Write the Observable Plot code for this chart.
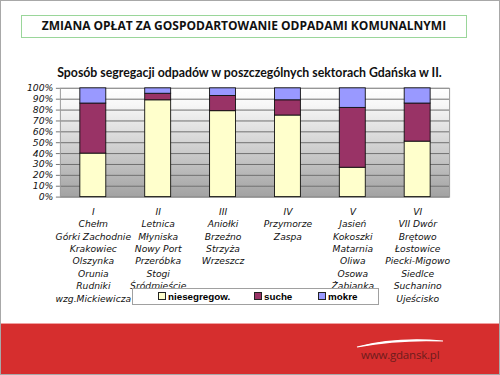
<!DOCTYPE html>
<html><head><meta charset="utf-8">
<script src="https://cdn.jsdelivr.net/npm/d3@7"></script>
<script src="https://cdn.jsdelivr.net/npm/@observablehq/plot@0.6"></script>
<style>
html,body{margin:0;padding:0;background:#fff;}
#page{position:relative;width:500px;height:375px;overflow:hidden;background:#fff;box-sizing:border-box;border:1px solid #a8a8a8;}
#page > *{position:absolute;}
#titlebox{left:20px;top:14px;width:446px;height:23px;border:1.5px solid #9ad69a;box-sizing:border-box;text-align:center;font:bold 12px "Open Sans",sans-serif;line-height:20px;color:#111;}
#subtitle{left:0;top:64px;width:497px;text-align:center;font:bold 12.3px Lato,sans-serif;color:#111;}
#chart{left:-1px;top:-1px;}
#legend{left:131px;top:287px;width:247px;height:17px;border:1px solid #a0a0a0;background:#fff;box-sizing:border-box;font:bold 9.8px "Liberation Sans",Arial,sans-serif;}
#legend .it{position:absolute;top:2px;line-height:12px;white-space:nowrap;}
#legend .sw{display:inline-block;width:6px;height:6px;border:1px solid #222;margin-right:2px;vertical-align:0px;}
#band{left:0;top:322px;width:500px;height:60px;background:#d62e2e;border-top:1px solid #f0a0a0;}
#www{left:360px;top:346px;font:11.5px "Open Sans",sans-serif;color:#6e1c1c;letter-spacing:-0.2px;}
#swoosh{left:0;top:0;}
</style></head>
<body>
<div id="page">
  <div id="band"></div>
  <svg id="swoosh" width="500" height="375"><path d="M356,346 Q395,336 442,340 Q400,338 356,346 Z" fill="#fff" stroke="#fff" stroke-width="1.2"/></svg>
  <div id="www">www.gdansk.pl</div>
  <div id="titlebox">ZMIANA OPŁAT ZA GOSPODARTOWANIE ODPADAMI KOMUNALNYMI</div>
  <div id="subtitle">Sposób segregacji odpadów w poszczególnych sektorach Gdańska w II.</div>
  <div id="chart"></div>
  <div id="legend"></div>
</div>
<script>
const sectors = ["I", "II", "III", "IV", "V", "VI"];
const districts = [
  ["Chełm", "Górki Zachodnie", "Krakowiec", "Olszynka", "Orunia", "Rudniki", "wzg.Mickiewicza"],
  ["Letnica", "Młyniska", "Nowy Port", "Przeróbka", "Stogi", "Śródmieście"],
  ["Aniołki", "Brzeźno", "Strzyża", "Wrzeszcz"],
  ["Przymorze", "Zaspa"],
  ["Jasień", "Kokoszki", "Matarnia", "Oliwa", "Osowa", "Żabianka"],
  ["VII Dwór", "Brętowo", "Łostowice", "Piecki-Migowo", "Siedlce", "Suchanino", "Ujeścisko"]
];
const types = ["niesegregow.", "suche", "mokre"];
const colors = ["#ffffcc", "#993366", "#9999ff"];
const niesegregowane = [0.40, 0.89, 0.79, 0.75, 0.27, 0.51];
const suche = [0.46, 0.06, 0.14, 0.14, 0.55, 0.35];
const mokre = [0.14, 0.05, 0.07, 0.11, 0.18, 0.14];
const yTicks = [0, 0.1, 0.2, 0.3, 0.4, 0.5, 0.6, 0.7, 0.8, 0.9, 1.0];

const series = [niesegregowane, suche, mokre];
const rows = [];
types.forEach((t, ti) => sectors.forEach((s, si) => rows.push({sector: s, type: t, value: series[ti][si]})));
const labels = sectors.map((s, i) => ({sector: s, text: [s, ...districts[i]].join("\n")}));

const chart = Plot.plot({
  width: 500, height: 312,
  marginLeft: 60, marginRight: 50, marginTop: 88, marginBottom: 115,
  style: {fontFamily: "'DejaVu Sans', Verdana, sans-serif", fontStyle: "italic", background: "transparent", color: "#111"},
  x: {domain: sectors, paddingInner: 0.6, paddingOuter: 0.3, axis: null},
  y: {domain: [0, 1], axis: null},
  color: {domain: types, range: colors},
  marks: [
    Plot.frame({fill: "url(#bgGrad)", stroke: null}),
    Plot.gridY(yTicks, {stroke: "#6f6f6f", strokeOpacity: 1, strokeWidth: 1}),
    Plot.frame({stroke: "#9a9a9a", strokeWidth: 1}),
    Plot.axisY(yTicks, {tickFormat: d3.format(".0%"), label: null, fontSize: 9.3, tickSize: 4, tickPadding: 3, stroke: "#777"}),
    Plot.barY(rows, {x: "sector", y: "value", fill: "type", stroke: "#111", strokeWidth: 0.9}),
    Plot.text(labels, {x: "sector", y: 0, text: "text", frameAnchor: "bottom", lineAnchor: "top", dy: 9, fontSize: 9.2, lineHeight: 1.35, fill: "#111"})
  ]
});
chart.insertAdjacentHTML("afterbegin",
  '<defs><linearGradient id="bgGrad" x1="0" y1="0" x2="0" y2="1">' +
  '<stop offset="0" stop-color="#ffffff"/><stop offset="0.15" stop-color="#f7f7f7"/>' +
  '<stop offset="1" stop-color="#a2a2a2"/></linearGradient></defs>');
document.getElementById("chart").appendChild(chart);

const legend = document.getElementById("legend");
const lefts = [25, 121, 185];
types.forEach((t, i) => {
  const d = document.createElement("div");
  d.className = "it";
  d.style.left = lefts[i] + "px";
  d.innerHTML = '<span class="sw" style="background:' + colors[i] + '"></span>' + t;
  legend.appendChild(d);
});
</script>
</body></html>
